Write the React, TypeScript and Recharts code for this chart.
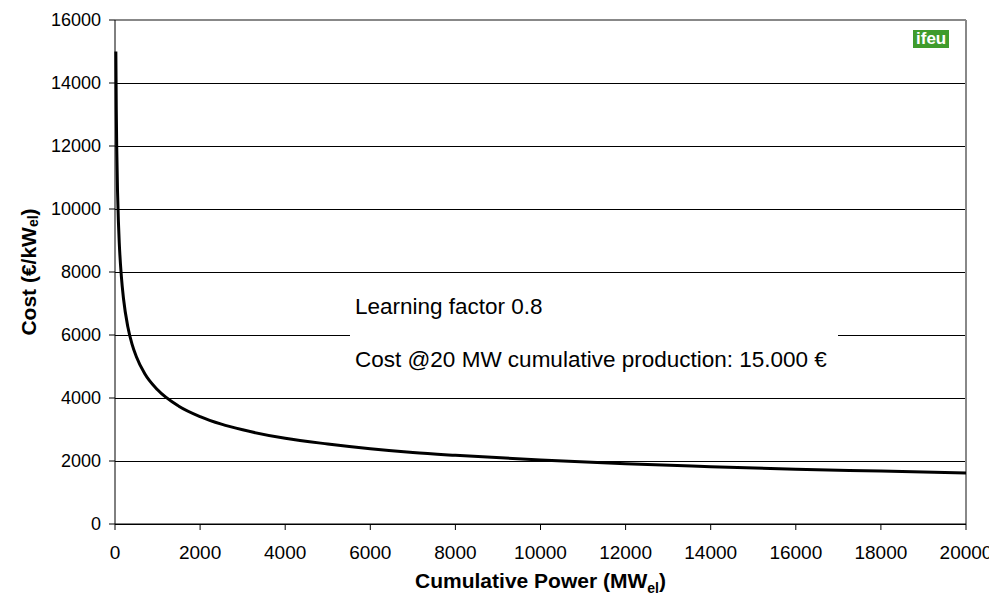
import React from 'react';
import { LineChart, Line, XAxis, YAxis, CartesianGrid, ReferenceLine } from 'recharts';

// cumulative power (MW_el) and cost (€/kW_el)
const power = [20, 30, 40, 60, 80, 100, 150, 200, 300, 400, 500, 700, 1000, 1500, 2000, 2500, 3000, 4000, 5000, 6000, 7000, 8000, 10000, 12000, 14000, 16000, 18000, 20000];
const cost = [15000, 13170, 12000, 10530, 9600, 8930, 7850, 7150, 6270, 5710, 5320, 4770, 4260, 3740, 3410, 3170, 2990, 2720, 2540, 2390, 2270, 2180, 2030, 1910, 1820, 1740, 1680, 1620];

const xTicks = [0, 2000, 4000, 6000, 8000, 10000, 12000, 14000, 16000, 18000, 20000];
const yTicks = [0, 2000, 4000, 6000, 8000, 10000, 12000, 14000, 16000];

const data = power.map((p, i) => ({ p, c: cost[i] }));

const FONT = 'Liberation Sans, Arial, sans-serif';

const YLabel = (props: any) => {
  const vb = props.viewBox || { y: 0, height: 0 };
  const cy = vb.y + vb.height / 2;
  return (
    <text x={20} y={cy} transform={`rotate(-90, 20, ${cy})`} textAnchor="middle" dominantBaseline="central"
      fontFamily={FONT} fontWeight="bold" fontSize={21} fill="#000">
      Cost (€/kW<tspan fontSize={14} dy={5}>el</tspan><tspan dy={-5}>)</tspan>
    </text>
  );
};

const XLabel = (props: any) => {
  const vb = props.viewBox || { x: 0, width: 0 };
  const cx = vb.x + vb.width / 2;
  return (
    <text x={cx} y={580} textAnchor="middle" fontFamily={FONT} fontWeight="bold" fontSize={21} fill="#000">
      Cumulative Power (MW<tspan fontSize={14} dy={5}>el</tspan><tspan dy={-5}>)</tspan>
    </text>
  );
};

export default function App() {
  return (
    <div style={{ position: 'relative', width: 989, height: 593 }}>
      <LineChart width={989} height={593} data={data} margin={{ top: 12, right: 31, bottom: 37, left: 0 }}>
        <CartesianGrid vertical={false} stroke="#000" strokeWidth={1} shapeRendering="crispEdges" />
        <XAxis
          dataKey="p"
          type="number"
          domain={[0, 20000]}
          ticks={xTicks}
          interval={0}
          height={40}
          tickSize={6}
          tickMargin={16}
          stroke="#000"
          tick={{ fill: '#000', fontSize: 19, fontFamily: FONT }}
          label={{ content: <XLabel /> }}
        />
        <YAxis
          type="number"
          domain={[0, 16000]}
          ticks={yTicks}
          interval={0}
          width={107}
          tickSize={6}
          tickMargin={8}
          stroke="#000"
          tick={{ fill: '#000', fontSize: 18, fontFamily: FONT }}
          label={{ content: <YLabel /> }}
        />
        <ReferenceLine y={16000} stroke="#888" strokeWidth={2} />
        <ReferenceLine x={20000} stroke="#888" strokeWidth={2} />
        <Line dataKey="c" type="monotone" stroke="#000" strokeWidth={3} dot={false} isAnimationActive={false} />
      </LineChart>
      <div style={{ position: 'absolute', left: 342, top: 266, width: 488, height: 124, background: '#fff',
        fontFamily: FONT, fontSize: 22.5, lineHeight: 1, color: '#000', whiteSpace: 'nowrap' }}>
        <div style={{ position: 'absolute', left: 5, top: 22 }}>Learning factor 0.8</div>
        <div style={{ position: 'absolute', left: 5, top: 75 }}>Cost @20 MW cumulative production: 15.000 €</div>
      </div>
      <div style={{ position: 'absolute', left: 905, top: 22, background: '#3f9b2c', color: '#fff',
        fontFamily: FONT, fontWeight: 'bold', fontSize: 17, lineHeight: '18px', padding: '0 3px' }}>ifeu</div>
    </div>
  );
}
